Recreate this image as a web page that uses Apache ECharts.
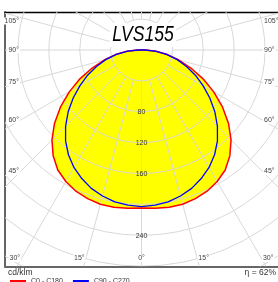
<!DOCTYPE html>
<html>
<head>
<meta charset="utf-8">
<script src="https://cdn.jsdelivr.net/npm/echarts@6/dist/echarts.min.js"></script>
<style>
html, body { margin: 0; padding: 0; background: #fff; }
#main { width: 278px; height: 282px; }
</style>
</head>
<body>
<div id="main"></div>
<script>
// luminous intensity distribution, cd/klm, gamma angle from nadir
var gammas   = [0, 5, 10, 15, 20, 25, 30, 35, 40, 45, 50, 55, 60, 65, 70, 75, 80, 85, 90];
var c0c180   = [204, 205, 206, 206, 204, 201, 196, 189, 178, 164, 147, 128, 108, 88, 68, 50, 34, 19, 5];
var c90c270  = [202, 201, 199, 195, 190, 183, 175, 165, 153, 139, 124, 108, 92, 77, 62, 48, 33, 18, 4];

var ringValues  = [40, 80, 120, 160, 200, 240, 280, 320, 360];
var ringLabels  = [80, 120, 160, 240];
var angleTicks  = [0, 15, 30, 45, 60, 75, 90, 105];
var spokeAngles = [0, 15, 30, 45, 60, 75, 90, 105, 120, 135, 150, 165, 180,
                   -15, -30, -45, -60, -75, -90, -105, -120, -135, -150, -165];

var lampName = 'LVS155';
var unitText = 'cd/klm';
var etaText  = 'η = 62%';

// layout of the diagram box
var pxPerUnit = 0.775;
var cx = 142, cy = 50;
var boxL = 5, boxT = 12, boxR = 279, boxB = 266.5;
var gridColor = '#d8d8d8';
var labelFont = '7px "Liberation Sans", Arial, sans-serif';

function rad(a) { return a * Math.PI / 180; }

// closed outline, left half then right half (symmetric planes)
function outline(vals) {
  var pts = [];
  for (var i = gammas.length - 1; i >= 0; i--) {
    pts.push([-vals[i] * Math.sin(rad(gammas[i])), -vals[i] * Math.cos(rad(gammas[i]))]);
  }
  for (var j = 1; j < gammas.length; j++) {
    pts.push([vals[j] * Math.sin(rad(gammas[j])), -vals[j] * Math.cos(rad(gammas[j]))]);
  }
  pts.push(pts[0]);
  return pts;
}

var redPts = outline(c0c180);
var bluePts = outline(c90c270);

var chart = echarts.init(document.getElementById('main'));

var hiddenAxis = {
  axisTick: { show: false },
  axisLabel: { show: false },
  splitLine: { show: false }
};

chart.setOption({
  animation: false,
  grid: { left: boxL, top: boxT, width: boxR - boxL, height: boxB - boxT },
  xAxis: [
    Object.assign({
      type: 'value', position: 'bottom',
      min: -(cx - boxL) / pxPerUnit, max: (boxR - cx) / pxPerUnit,
      axisLine: { show: true, onZero: false, lineStyle: { color: '#666', width: 2 } }
    }, hiddenAxis),
    Object.assign({
      type: 'value', position: 'top',
      min: -(cx - boxL) / pxPerUnit, max: (boxR - cx) / pxPerUnit,
      axisLine: { show: true, onZero: false, lineStyle: { color: '#000', width: 1.3 } }
    }, hiddenAxis)
  ],
  yAxis: Object.assign({
    type: 'value', position: 'left',
    min: -(boxB - cy) / pxPerUnit, max: (cy - boxT) / pxPerUnit,
    axisLine: { show: true, onZero: false, lineStyle: { color: '#666', width: 2 } }
  }, hiddenAxis),
  legend: {
    left: 10, top: 277.5, padding: 0,
    icon: 'rect', itemWidth: 16, itemHeight: 2, itemGap: 10,
    textStyle: { fontSize: 7, color: '#333', fontFamily: 'Liberation Sans' },
    data: ['C0 - C180', 'C90 - C270']
  },
  graphic: [
    {
      type: 'text', x: cx + 1, y: 35, z: 100, scaleX: 0.8,
      style: {
        text: lampName, textAlign: 'center', textVerticalAlign: 'middle',
        font: 'italic 22px "Liberation Sans", sans-serif',
        fill: '#000', backgroundColor: '#fff', padding: [1, 3]
      }
    },
    {
      type: 'text', x: 8, y: 273,
      style: { text: unitText, textVerticalAlign: 'middle', font: '8.5px "Liberation Sans", sans-serif', fill: '#333' }
    },
    {
      type: 'text', x: 276, y: 273,
      style: { text: etaText, textAlign: 'right', textVerticalAlign: 'middle', font: '8.5px "Liberation Sans", sans-serif', fill: '#333' }
    }
  ],
  series: [
    {
      // yellow area of the outer curve
      type: 'custom', name: 'fill', silent: true, z: 1, clip: true,
      data: [[0, 0]],
      renderItem: function (params, api) {
        return {
          type: 'polygon',
          shape: { points: redPts.map(function (p) { return api.coord(p); }) },
          style: { fill: '#ffff00', stroke: 'none' }
        };
      }
    },
    {
      // rings and spokes
      type: 'custom', name: 'polarGrid', silent: true, z: 2, clip: true,
      data: [[0, 0]],
      renderItem: function (params, api) {
        var c = api.coord([0, 0]);
        var kids = [];
        ringValues.forEach(function (v) {
          kids.push({
            type: 'circle',
            shape: { cx: c[0], cy: c[1], r: api.size([v, 0])[0] },
            style: { fill: 'none', stroke: gridColor, lineWidth: 1 }
          });
        });
        spokeAngles.forEach(function (a) {
          var s = Math.sin(rad(a)), k = Math.cos(rad(a));
          var p1 = api.coord([ringValues[0] * s, -ringValues[0] * k]);
          var p2 = api.coord([500 * s, -500 * k]);
          kids.push({
            type: 'line',
            shape: { x1: p1[0], y1: p1[1], x2: p2[0], y2: p2[1] },
            style: { stroke: gridColor, lineWidth: 1 }
          });
        });
        var cs = params.coordSys;
        return {
          type: 'group', children: kids,
          clipPath: { type: 'rect', shape: { x: cs.x, y: cs.y, width: cs.width, height: cs.height } }
        };
      }
    },
    {
      // intensity labels along the 0 deg spoke
      type: 'custom', name: 'ringLabels', silent: true, z: 3,
      data: ringLabels.map(function (v) { return [0, -v]; }),
      renderItem: function (params, api) {
        var p = api.coord([api.value(0), api.value(1)]);
        return {
          type: 'text', x: p[0], y: p[1],
          style: {
            text: String(-api.value(1)), textAlign: 'center', textVerticalAlign: 'middle',
            font: labelFont, fill: '#333'
          }
        };
      }
    },
    {
      // angle labels at the box edges
      type: 'custom', name: 'angleLabels', silent: true, z: 5,
      data: [[0, 0]],
      renderItem: function (params, api) {
        var box = params.coordSys;
        var c = api.coord([0, 0]);
        var bottom = box.y + box.height;
        var kids = [];
        angleTicks.forEach(function (g) {
          var sides = g === 0 ? [0] : [-1, 1];
          sides.forEach(function (side) {
            var sx = Math.sin(rad(g)), ky = Math.cos(rad(g));
            var tBottom = ky > 0 ? (bottom - c[1]) / ky : Infinity;
            var tSide = sx > 0 ? (c[0] - box.x) / sx : Infinity;
            var x, y, align;
            if (tBottom <= tSide) {
              y = bottom - 8;
              x = c[0] + side * (y - c[1]) * sx / ky;
              align = side < 0 ? 'right' : (side > 0 ? 'left' : 'center');
            } else {
              x = side < 0 ? box.x + 15 : box.x + box.width - 15;
              y = c[1] + Math.abs(x - c[0]) * ky / sx;
              y = Math.max(y, box.y + 9);
              align = side < 0 ? 'right' : 'left';
            }
            kids.push({
              type: 'text', x: x, y: y,
              style: {
                text: g + '°', textAlign: align, textVerticalAlign: 'middle',
                font: labelFont, fill: '#444', backgroundColor: '#fff', padding: [0, 1]
              }
            });
          });
        });
        return { type: 'group', children: kids };
      }
    },
    {
      name: 'C0 - C180', type: 'line', z: 4,
      data: redPts, showSymbol: false, symbol: 'none',
      lineStyle: { color: '#ff0000', width: 1.5 },
      itemStyle: { color: '#ff0000' }
    },
    {
      name: 'C90 - C270', type: 'line', z: 4,
      data: bluePts, showSymbol: false, symbol: 'none',
      lineStyle: { color: '#0000ff', width: 1.3 },
      itemStyle: { color: '#0000ff' }
    }
  ]
});
</script>
</body>
</html>
